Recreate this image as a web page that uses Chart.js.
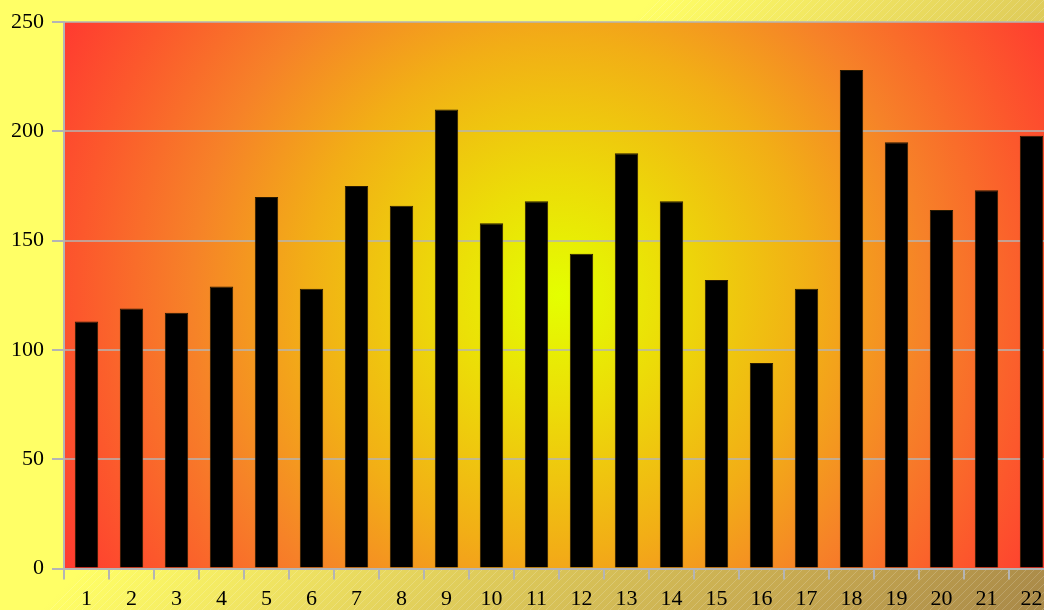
<!DOCTYPE html>
<html>
<head>
<meta charset="utf-8">
<script src="https://cdn.jsdelivr.net/npm/chart.js@4/dist/chart.umd.min.js"></script>
<style>
  html, body { margin: 0; padding: 0; overflow: hidden; background: #ffff66; }
  #wrap { position: relative; width: 1056px; height: 610px; }
</style>
</head>
<body>
<div id="wrap"><canvas id="chart"></canvas></div>
<script>
// Category labels along the x axis
const categories = ['1','2','3','4','5','6','7','8','9','10','11','12','13','14','15','16','17','18','19','20','21','22'];
// Bar heights
const values = [113, 119, 117, 129, 170, 128, 175, 166, 210, 158, 168, 144, 190, 168, 132, 94, 128, 228, 195, 164, 173, 198];
// Value axis range and step
const yMin = 0;
const yMax = 250;
const yStep = 50;

// Paints the page gradient with its diagonal hatching, then the radial fill of the plot area
const backdrop = {
  id: 'backdrop',
  beforeDraw(chart) {
    const { ctx, width, height, chartArea: a } = chart;
    ctx.save();
    const g = ctx.createLinearGradient(325, 325, 827, 827);
    g.addColorStop(0, '#ffff66');
    g.addColorStop(0.2, '#f0e462');
    g.addColorStop(0.4, '#dfcc5a');
    g.addColorStop(0.75, '#c4a650');
    g.addColorStop(1, '#a88848');
    ctx.fillStyle = '#ffff66';
    ctx.fillRect(0, 0, width, height);
    ctx.fillStyle = g;
    ctx.fillRect(0, 0, width, height);
    // faint "/" hatching over the shaded part
    ctx.strokeStyle = 'rgba(255,255,255,0.18)';
    ctx.lineWidth = 1;
    for (let c = 660; c < width + height + 10; c += 8) {
      ctx.beginPath();
      ctx.moveTo(c, 0);
      ctx.lineTo(c - height, height);
      ctx.stroke();
    }
    ctx.restore();

    // circular radial fill inside the plot area, yellow in the middle, red at the rim
    const cx = (a.left + a.right) / 2;
    const cy = (a.top + a.bottom) / 2;
    const rad = Math.hypot((a.right - a.left) / 2, (a.bottom - a.top) / 2);
    ctx.save();
    const r = ctx.createRadialGradient(cx, cy, 0, cx, cy, rad);
    r.addColorStop(0, '#e4ff00');
    r.addColorStop(0.2, '#ecdc08');
    r.addColorStop(0.45, '#f2ae16');
    r.addColorStop(0.65, '#f68228');
    r.addColorStop(0.85, '#fc582c');
    r.addColorStop(1, '#ff3a30');
    ctx.fillStyle = r;
    ctx.fillRect(a.left, a.top, a.right - a.left, a.bottom - a.top);
    ctx.restore();
  }
};

new Chart(document.getElementById('chart'), {
  type: 'bar',
  data: {
    labels: categories,
    datasets: [{
      data: values,
      backgroundColor: '#000000',
      borderColor: '#2a1a00',
      borderWidth: 1,
      barPercentage: 0.52,
      categoryPercentage: 1.0
    }]
  },
  options: {
    responsive: true,
    maintainAspectRatio: false,
    animation: false,
    layout: { padding: { top: 22, left: 3, right: 2, bottom: -8 } },
    plugins: {
      legend: { display: false },
      tooltip: { enabled: false }
    },
    scales: {
      x: {
        offset: true,
        grid: {
          offset: true,
          drawOnChartArea: false,
          drawTicks: true,
          tickLength: 11,
          color: '#b4b4b4',
          lineWidth: 2
        },
        border: { display: true, color: '#b4b4b4', width: 2 },
        ticks: {
          color: '#000000',
          padding: 6,
          maxRotation: 0,
          autoSkip: false,
          font: { family: '"Liberation Serif", "Times New Roman", serif', size: 22 }
        }
      },
      y: {
        min: yMin,
        max: yMax,
        grid: {
          color: 'rgba(180,180,180,0.75)',
          lineWidth: 2,
          tickLength: 12,
          tickColor: '#b4b4b4'
        },
        border: { display: true, color: '#b4b4b4', width: 2 },
        ticks: {
          stepSize: yStep,
          color: '#000000',
          padding: 8,
          font: { family: '"Liberation Serif", "Times New Roman", serif', size: 22 }
        }
      }
    }
  },
  plugins: [backdrop]
});
</script>
</body>
</html>
